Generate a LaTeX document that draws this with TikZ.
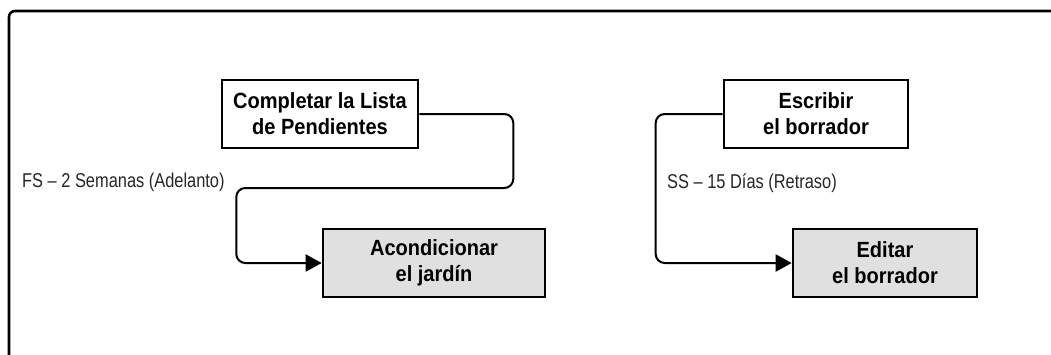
\documentclass[tikz,border=0pt]{standalone}
\usepackage{fontspec}
\setmainfont{Liberation Sans}
\newfontfamily\taskfont[FakeStretch=0.91]{Liberation Sans}
\newfontfamily\lagfont[FakeStretch=0.82]{Liberation Sans}
\usetikzlibrary{arrows.meta}
\begin{document}
\begin{tikzpicture}[x=1pt,y=-1pt]
            %
            % `task' is used for the white boxes.
            % `shifted' is used for the grey boxes that get moved.
            % `link' is used for the dependency arrows.
            % `lag' is used for the dependency texts.
            \tikzstyle{task} = [draw,line width=2.6pt,fill=white,align=center,inner sep=0pt,
                font=\fontsize{22}{26}\taskfont\bfseries,minimum height=68pt]
            \tikzstyle{shifted} = [task,fill=black!12]
            \tikzstyle{link} = [line width=2pt,rounded corners=9pt,-{Triangle[length=16pt,width=17pt]}]
            \tikzstyle{lag} = [anchor=base west,inner sep=0pt,text=black!85,font=\fontsize{20}{22}\lagfont]
            %
            \clip (0,0) rectangle (1051,354);
            % Frame
            \draw[line width=2.6pt,rounded corners=6pt] (9,400) -- (9,11) -- (1080,11);
            %
            % Left pair
            \node[task,minimum width=196pt] (lista) at (320,114) {Completar la Lista\\de Pendientes};
            \node[shifted,minimum width=222pt] (jardin) at (434,263) {Acondicionar\\el jardín};
            \draw[link] (lista.east) -- ++(94,0) -- ++(0,74) -- ++(-277,0) |- (jardin.west);
            \node[lag] (fs) at (22,187) {FS – 2 Semanas (Adelanto)};
            %
            % Right pair
            \node[task,minimum width=184pt] (escribir) at (816,114) {Escribir\\el borrador};
            \node[shifted,minimum width=184pt] (editar) at (885,263) {Editar\\el borrador};
            \draw[link] (escribir.west) -- ++(-67,0) |- (editar.west);
            \node[lag] (ss) at (667,188) {SS – 15 Días (Retraso)};
        \end{tikzpicture}
\end{document}
